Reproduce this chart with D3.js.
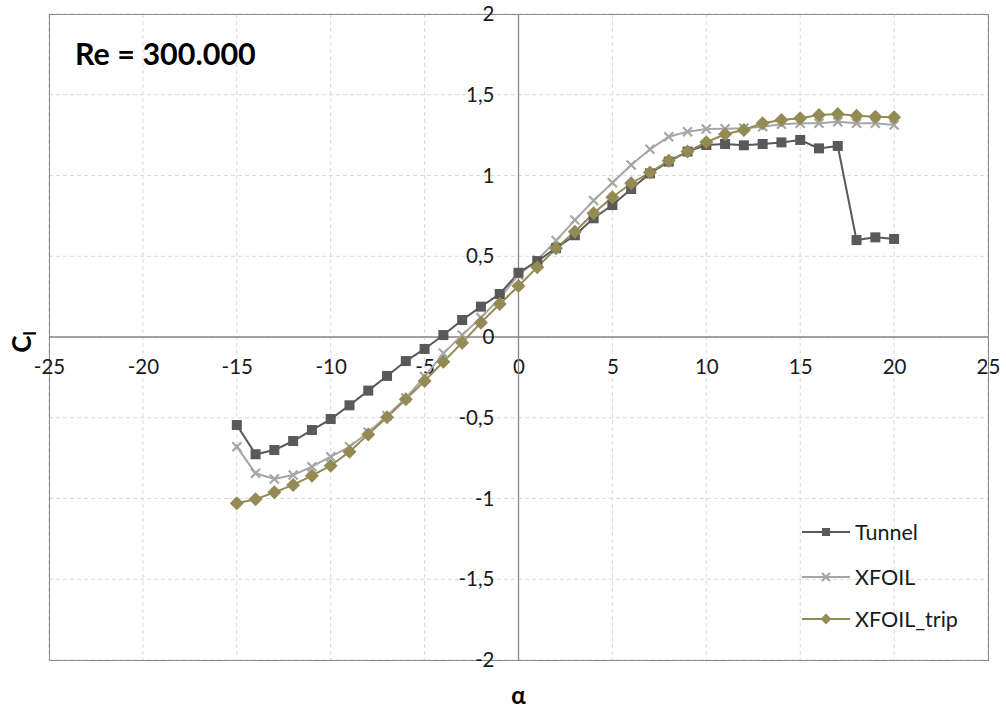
<!DOCTYPE html>
<html><head><meta charset="utf-8">
<script src="https://cdn.jsdelivr.net/npm/d3@7"></script>
<style>html,body{margin:0;padding:0;background:#fff;}svg{display:block;font-family:Lato,"Open Sans",sans-serif;}</style>
</head><body>
<svg id="c" width="1006" height="711"></svg>
<script>
const alpha = [-15,-14,-13,-12,-11,-10,-9,-8,-7,-6,-5,-4,-3,-2,-1,0,1,2,3,4,5,6,7,8,9,10,11,12,13,14,15,16,17,18,19,20];
const tunnel = [-0.545,-0.726,-0.70,-0.644,-0.576,-0.508,-0.423,-0.332,-0.241,-0.149,-0.074,0.012,0.105,0.188,0.266,0.398,0.47,0.55,0.63,0.735,0.817,0.916,1.013,1.086,1.148,1.189,1.195,1.187,1.195,1.205,1.22,1.168,1.183,0.60,0.617,0.607];
const xfoil = [-0.679,-0.844,-0.879,-0.855,-0.803,-0.741,-0.68,-0.59,-0.488,-0.378,-0.245,-0.101,0.012,0.12,0.24,0.384,0.477,0.597,0.724,0.845,0.955,1.065,1.162,1.24,1.271,1.288,1.29,1.292,1.302,1.317,1.323,1.323,1.333,1.323,1.323,1.313];
const xfoilTrip = [-1.03,-1.005,-0.962,-0.916,-0.859,-0.797,-0.71,-0.603,-0.497,-0.386,-0.272,-0.153,-0.035,0.089,0.204,0.316,0.432,0.549,0.652,0.766,0.865,0.952,1.018,1.092,1.148,1.206,1.255,1.282,1.323,1.344,1.354,1.375,1.381,1.370,1.364,1.360];
const xTicks = [-25,-20,-15,-10,-5,0,5,10,15,20,25];
const yTicks = [-2,-1.5,-1,-0.5,0,0.5,1,1.5,2];
const seriesNames = ["Tunnel","XFOIL","XFOIL_trip"];
const title = "Re = 300.000";

const svg = d3.select("#c");
const L=49, R=988, T=14, B=660;
const x = d3.scaleLinear().domain([-25,25]).range([L,R]);
const y = d3.scaleLinear().domain([-2,2]).range([B,T]);
const fmt = v => String(v).replace(".", ",");

// grid
const g = svg.append("g");
g.selectAll(".gx").data(xTicks).join("line")
  .attr("x1",d=>x(d)).attr("x2",d=>x(d)).attr("y1",T).attr("y2",B)
  .attr("stroke","#d9d9d9").attr("stroke-dasharray","4,3").attr("stroke-width",1);
g.selectAll(".gy").data(yTicks).join("line")
  .attr("x1",L).attr("x2",R).attr("y1",d=>y(d)).attr("y2",d=>y(d))
  .attr("stroke","#d9d9d9").attr("stroke-dasharray","4,3").attr("stroke-width",1);
// border
svg.append("rect").attr("x",L+0.5).attr("y",T+0.5).attr("width",R-L).attr("height",B-T)
  .attr("fill","none").attr("stroke","#8c8c8c").attr("stroke-width",1);
// axes through zero
const xAxis = d3.axisBottom(x).tickValues(xTicks).tickSize(0).tickPadding(22).tickFormat(fmt);
const yAxis = d3.axisLeft(y).tickValues(yTicks).tickSize(0).tickPadding(24).tickFormat(fmt);
const gx = svg.append("g").attr("transform",`translate(0,${y(0)})`).call(xAxis);
const gy = svg.append("g").attr("transform",`translate(${x(0)},0)`).call(yAxis);
[gx,gy].forEach(a=>{
  a.select(".domain").attr("stroke","#868686").attr("stroke-width",1.3);
  a.selectAll("text").attr("font-size",20.5).attr("fill","#1a1a1a").attr("font-family","Lato,sans-serif");
});
gx.select(".domain").attr("d",`M${L},0H${R}`);
gy.select(".domain").attr("d",`M0,${T}V${B}`);

const line = d3.line().x((d,i)=>x(alpha[i])).y(d=>y(d));
const colors = ["#595959","#a6a6a6","#948a54"];
const data = [tunnel,xfoil,xfoilTrip];

function marker(sel, k, cx, cy, s){
  if(k===0){
    sel.append("rect").attr("x",cx-s/2).attr("y",cy-s/2).attr("width",s).attr("height",s).attr("fill",colors[0]);
  } else if(k===1){
    const h=s/2;
    sel.append("path").attr("d",`M${cx-h},${cy-h}L${cx+h},${cy+h}M${cx-h},${cy+h}L${cx+h},${cy-h}`)
      .attr("stroke",colors[1]).attr("stroke-width",2.2).attr("fill","none");
  } else {
    const h=s/2;
    sel.append("path").attr("d",`M${cx},${cy-h}L${cx+h},${cy}L${cx},${cy+h}L${cx-h},${cy}Z`).attr("fill",colors[2]);
  }
}
const msize=[10,9,14];
[1,0,2].forEach(k=>{
  svg.append("path").datum(data[k]).attr("d",line).attr("fill","none").attr("stroke",colors[k]).attr("stroke-width",2);
});
[1,0,2].forEach(k=>{
  const gm = svg.append("g");
  data[k].forEach((v,i)=>marker(gm,k,x(alpha[i]),y(v),msize[k]));
});

// title
svg.append("text").attr("x",75).attr("y",65).attr("font-size",30.5).attr("font-weight","bold")
  .attr("font-family","Lato,sans-serif").attr("fill","#000").text(title);
// axis titles
svg.append("text").attr("transform","translate(31,342) rotate(-90)").attr("text-anchor","middle")
  .attr("font-size",26).attr("font-weight","bold").attr("fill","#000")
  .html('C<tspan font-size="17" dy="5">l</tspan>');
svg.append("text").attr("x",x(0)).attr("y",704).attr("text-anchor","middle")
  .attr("font-size",24).attr("font-weight","bold").attr("fill","#000").text("α");

// legend
const lg = svg.append("g");
const ly=[532,577,619];
seriesNames.forEach((n,k)=>{
  lg.append("line").attr("x1",802).attr("x2",850).attr("y1",ly[k]).attr("y2",ly[k]).attr("stroke",colors[k]).attr("stroke-width",2);
  marker(lg,k,826,ly[k],[8,8,11][k]);
  lg.append("text").attr("x",855).attr("y",ly[k]+7.5).attr("font-size",21.5).attr("fill","#1a1a1a").text(n);
});
</script>
</body></html>
